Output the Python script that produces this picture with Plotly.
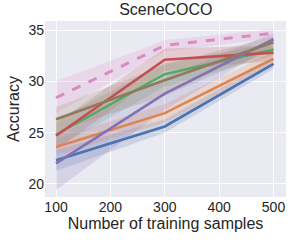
import plotly.graph_objects as go

x = [100, 300, 500]
names = ["blue", "orange", "green", "red", "purple", "brown", "pink"]
colors = ["#4C72B0", "#DD8452", "#55A868", "#C44E52", "#8172B3", "#937860", "#DA8BC3"]
fills = ["rgba(76,114,176,0.2)", "rgba(221,132,82,0.2)", "rgba(85,168,104,0.2)",
         "rgba(196,78,82,0.2)", "rgba(129,114,179,0.2)", "rgba(147,120,96,0.2)",
         "rgba(218,139,195,0.2)"]
means = [
    [22.3, 25.6, 31.7],
    [23.6, 26.9, 32.2],
    [24.8, 30.7, 33.1],
    [24.7, 32.1, 32.8],
    [22.0, 28.8, 34.1],
    [26.3, 30.1, 33.8],
    [28.4, 33.5, 34.7],
]
lowers = [
    [21.3, 25.0, 31.2],
    [22.8, 26.0, 31.5],
    [23.5, 29.5, 32.5],
    [23.3, 31.0, 32.0],
    [19.4, 27.2, 33.5],
    [25.1, 28.6, 33.1],
    [26.9, 32.9, 34.2],
]
uppers = [
    [23.3, 26.3, 32.2],
    [24.4, 27.8, 32.9],
    [26.2, 31.8, 33.7],
    [26.0, 33.2, 33.5],
    [24.6, 30.4, 34.7],
    [27.5, 31.6, 34.4],
    [30.0, 34.0, 35.1],
]
dashes = ["solid"] * 6 + ["dash"]

fig = go.Figure()
for i in range(len(names)):
    fig.add_trace(go.Scatter(
        x=x + x[::-1], y=uppers[i] + lowers[i][::-1],
        fill="toself", fillcolor=fills[i], line=dict(width=0),
        mode="lines", hoverinfo="skip", showlegend=False))
for i in range(len(names)):
    fig.add_trace(go.Scatter(
        x=x, y=means[i], mode="lines", name=names[i],
        line=dict(color=colors[i], width=2.6 if dashes[i] == "solid" else 3, dash=dashes[i]),
        showlegend=False))

font = "Liberation Sans, Arial, sans-serif"
fig.update_layout(
    width=291, height=241,
    margin=dict(l=45, r=5, t=21, b=44),
    paper_bgcolor="white", plot_bgcolor="#EAEAF2",
    title=dict(text="SceneCOCO", x=0.57, xanchor="center", y=0.985, yanchor="top",
               font=dict(family=font, size=16, color="#262626")),
    font=dict(family=font, color="#262626"),
)
fig.update_xaxes(range=[79.7, 523], tickvals=[100, 200, 300, 400, 500],
                 showgrid=True, gridcolor="white", gridwidth=1, zeroline=False,
                 tickfont=dict(size=14), ticks="", showline=False, automargin=False,
                 title=dict(text="Number of training samples", font=dict(size=16), standoff=2))
fig.update_yaxes(range=[18.73, 35.88], tickvals=[20, 25, 30, 35],
                 showgrid=True, gridcolor="white", gridwidth=1, zeroline=False,
                 tickfont=dict(size=14), ticks="", showline=False, automargin=False,
                 title=dict(text="Accuracy", font=dict(size=16), standoff=4))
fig.write_html("out.html", config={"displayModeBar": False},
               post_script="document.body.style.margin='0';document.body.style.overflow='hidden';")
